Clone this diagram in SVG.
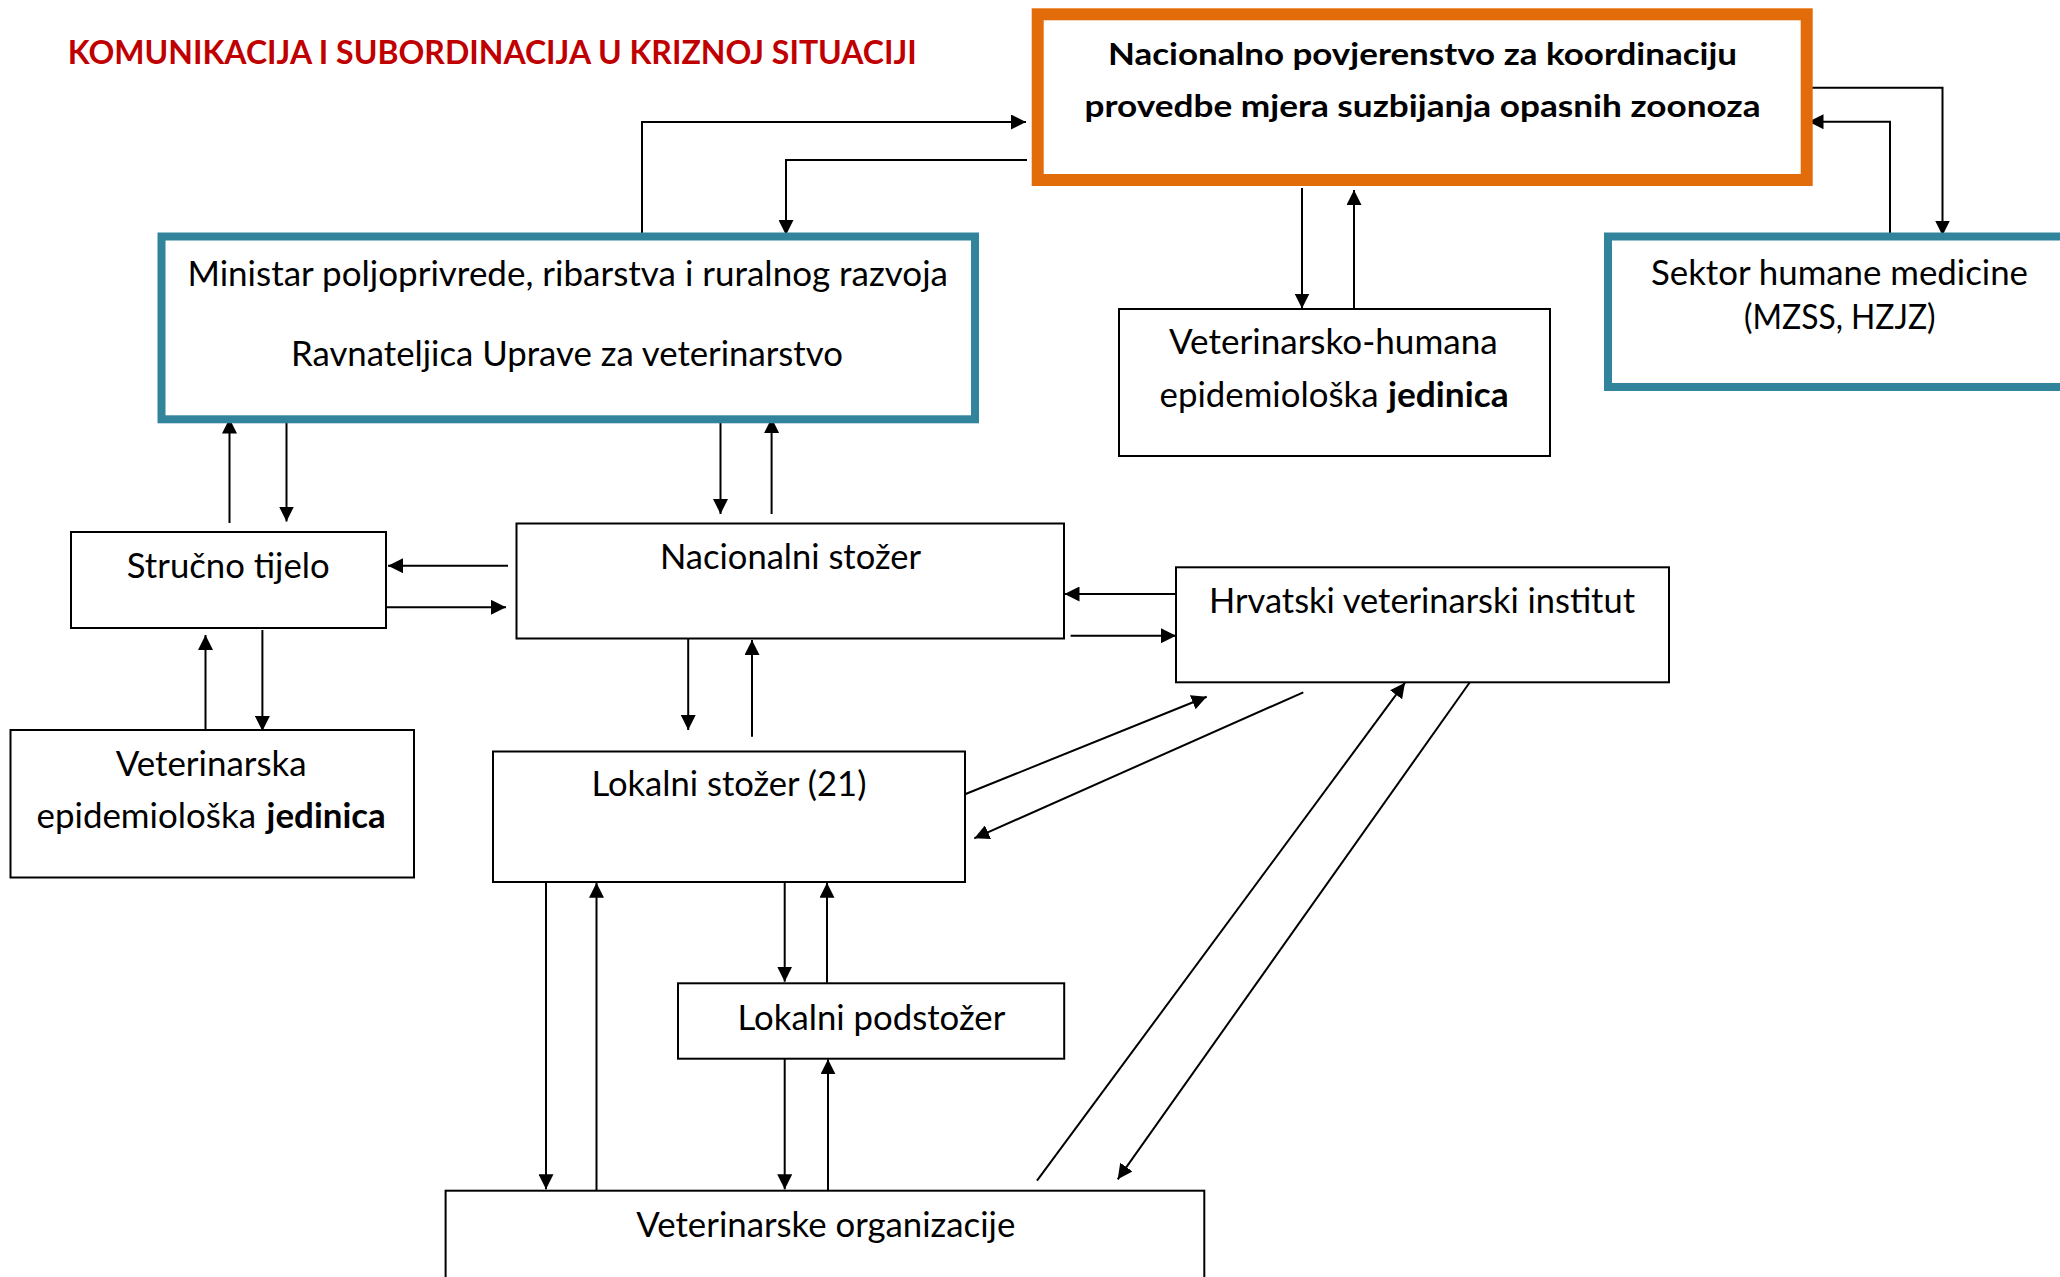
<svg xmlns="http://www.w3.org/2000/svg" width="2060" height="1277" viewBox="0 0 2060 1277">
<style>
  .box{fill:#fff;stroke:#000;stroke-width:2}
  .teal{fill:#fff;stroke:#31849B;stroke-width:8}
  .orange{fill:#fff;stroke:#E36C0A;stroke-width:12}
  .t{font-family:Lato,"Liberation Sans",sans-serif;font-size:34px;fill:#000}
  .b{font-weight:bold}
  .title{font-family:Lato,"Liberation Sans",sans-serif;font-size:33px;font-weight:bold;fill:#C00000}
  .ob{font-family:Lato,"Liberation Sans",sans-serif;font-size:31px;font-weight:bold;fill:#000}
  .c{fill:none;stroke:#000;stroke-width:2;marker-end:url(#ah)}
</style>
<defs>
  <marker id="ah" markerUnits="userSpaceOnUse" markerWidth="15" markerHeight="15" refX="15" refY="7.5" orient="auto">
    <path d="M0,0 L15,7.5 L0,15 z" fill="#000"/>
  </marker>
</defs>
<rect width="2060" height="1277" fill="#fff"/>
<text class="title" x="67.7" y="64" textLength="849" lengthAdjust="spacingAndGlyphs">KOMUNIKACIJA I SUBORDINACIJA U KRIZNOJ SITUACIJI</text>

<g id="connectors">
  <polyline class="c" points="642,237 642,122 1026,122"/>
  <polyline class="c" points="1027,160 786,160 786,235"/>
  <polyline class="c" points="1302,188 1302,308.5"/>
  <polyline class="c" points="1354,308.5 1354,190"/>
  <polyline class="c" points="1806,87.7 1942.5,87.7 1942.5,235.5"/>
  <polyline class="c" points="1890,237 1890,121.7 1808.5,121.7"/>
  <polyline class="c" points="229.5,523 229.5,418.5"/>
  <polyline class="c" points="286.5,416.5 286.5,521.5"/>
  <polyline class="c" points="720.5,417 720.5,514"/>
  <polyline class="c" points="771.6,514 771.6,418"/>
  <polyline class="c" points="508,565.7 388,565.7"/>
  <polyline class="c" points="386,607.3 506,607.3"/>
  <polyline class="c" points="1177,594 1064.5,594"/>
  <polyline class="c" points="1070.6,635.7 1176,635.7"/>
  <polyline class="c" points="205.5,735 205.5,635"/>
  <polyline class="c" points="262.4,630 262.4,731"/>
  <polyline class="c" points="688.2,638.5 688.2,730"/>
  <polyline class="c" points="752,736.7 752,640"/>
  <polyline class="c" points="965,794.3 1206.7,696.7"/>
  <polyline class="c" points="1303.3,692.3 974.3,838.3"/>
  <polyline class="c" points="1037,1180.7 1405,682.7"/>
  <polyline class="c" points="1470,682 1117.7,1179.3"/>
  <polyline class="c" points="546,882 546,1189.3"/>
  <polyline class="c" points="596.5,1190 596.5,882.7"/>
  <polyline class="c" points="784.7,882 784.7,981.7"/>
  <polyline class="c" points="827,982.7 827,882.7"/>
  <polyline class="c" points="784.7,1059 784.7,1189.3"/>
  <polyline class="c" points="828,1190 828,1059.3"/>
</g>

<g id="povjerenstvo">
  <rect class="orange" x="1037.7" y="14.3" width="769" height="165.7"/>
  <text class="ob" x="1108" y="65" textLength="629" lengthAdjust="spacingAndGlyphs">Nacionalno povjerenstvo za koordinaciju</text>
  <text class="ob" x="1084.5" y="117" textLength="676" lengthAdjust="spacingAndGlyphs">provedbe mjera suzbijanja opasnih zoonoza</text>
</g>

<g id="ministar">
  <rect class="teal" x="161.5" y="236.5" width="813.5" height="182.8"/>
  <text class="t" x="187.4" y="286" textLength="760.6" lengthAdjust="spacingAndGlyphs">Ministar poljoprivrede, ribarstva i ruralnog razvoja</text>
  <text class="t" x="291" y="366" textLength="552" lengthAdjust="spacingAndGlyphs">Ravnateljica Uprave za veterinarstvo</text>
</g>

<g id="sektor">
  <rect class="teal" x="1608" y="236.5" width="470" height="150.5"/>
  <text class="t" x="1651" y="285" textLength="377" lengthAdjust="spacingAndGlyphs">Sektor humane medicine</text>
  <text class="t" x="1744" y="329" textLength="191.6" lengthAdjust="spacingAndGlyphs">(MZSS, HZJZ)</text>
</g>

<g id="vet-hum-jedinica">
  <rect class="box" x="1119" y="309" width="431" height="147"/>
  <text class="t" x="1169" y="354" textLength="328.7" lengthAdjust="spacingAndGlyphs">Veterinarsko-humana</text>
  <text class="t" x="1159.5" y="406.7" textLength="219" lengthAdjust="spacingAndGlyphs">epidemiološka</text>
  <text class="t b" x="1388" y="406.7" textLength="120.6" lengthAdjust="spacingAndGlyphs">jedinica</text>
</g>

<g id="strucno-tijelo">
  <rect class="box" x="71" y="532" width="315" height="96"/>
  <text class="t" x="126.8" y="577.7" textLength="202.8" lengthAdjust="spacingAndGlyphs">Stručno tijelo</text>
</g>

<g id="nacionalni-stozer">
  <rect class="box" x="516.5" y="523.5" width="547.5" height="115"/>
  <text class="t" x="660" y="569" textLength="261" lengthAdjust="spacingAndGlyphs">Nacionalni stožer</text>
</g>

<g id="hvi">
  <rect class="box" x="1176" y="567.3" width="493" height="115"/>
  <text class="t" x="1209" y="613.3" textLength="426" lengthAdjust="spacingAndGlyphs">Hrvatski veterinarski institut</text>
</g>

<g id="vet-epi-jedinica">
  <rect class="box" x="10.5" y="730" width="403.5" height="147.5"/>
  <text class="t" x="115.7" y="776" textLength="190.9" lengthAdjust="spacingAndGlyphs">Veterinarska</text>
  <text class="t" x="36.5" y="828.3" textLength="219.5" lengthAdjust="spacingAndGlyphs">epidemiološka</text>
  <text class="t b" x="266.6" y="828.3" textLength="119.2" lengthAdjust="spacingAndGlyphs">jedinica</text>
</g>

<g id="lokalni-stozer">
  <rect class="box" x="493" y="751.5" width="472" height="130.5"/>
  <text class="t" x="591.4" y="796" textLength="275" lengthAdjust="spacingAndGlyphs">Lokalni stožer (21)</text>
</g>

<g id="lokalni-podstozer">
  <rect class="box" x="678" y="983.3" width="386.2" height="75.4"/>
  <text class="t" x="737.5" y="1030" textLength="267.8" lengthAdjust="spacingAndGlyphs">Lokalni podstožer</text>
</g>

<g id="vet-organizacije">
  <rect class="box" x="445.6" y="1190.7" width="758.7" height="100"/>
  <text class="t" x="636.3" y="1236.7" textLength="379" lengthAdjust="spacingAndGlyphs">Veterinarske organizacije</text>
</g>
</svg>
